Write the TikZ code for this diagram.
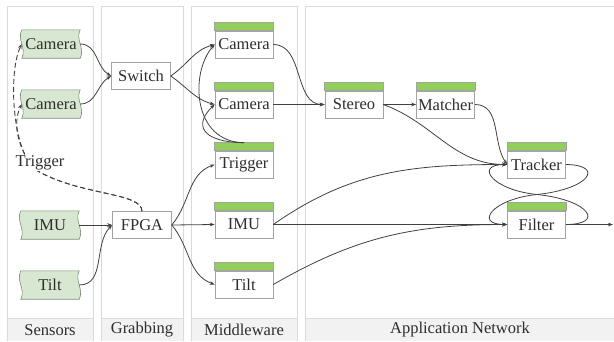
\documentclass[tikz,border=0pt]{standalone}
\usepackage{fontspec}
\setmainfont{Liberation Serif}
\usetikzlibrary{arrows.meta,backgrounds}

\definecolor{laneline}{HTML}{DADADA}
\definecolor{footfill}{HTML}{F2F2F2}
\definecolor{sensfill}{HTML}{D7E7D1}
\definecolor{sensline}{HTML}{7D8C78}
\definecolor{bargreen}{HTML}{92CF5A}
\definecolor{boxline}{HTML}{A3A3A3}
\definecolor{wire}{HTML}{404040}
\definecolor{ink}{HTML}{2E2E2E}

\tikzset{
  lanebox/.style={draw=laneline, line width=0.8pt},
  sensor/.style={minimum width=58pt, minimum height=28pt, inner sep=0pt},
  sensorshape/.style={draw=sensline, fill=sensfill, line width=0.6pt},
  plainbox/.style={draw=boxline, fill=white, line width=0.6pt,
    minimum width=59pt, minimum height=27pt, inner sep=0pt},
  mwbox/.style={draw=boxline, fill=white, line width=0.6pt,
    minimum width=58pt, minimum height=27pt, inner sep=0pt},
  wireline/.style={draw=wire, line width=0.8pt,
    -{Stealth[length=5pt,width=3.6pt]}},
  trigline/.style={wireline, dash pattern=on 5pt off 3pt, line width=0.9pt},
  lanelabel/.style={text=ink, font=\fontsize{16.5}{19}\selectfont}
}

\begin{document}
\begin{tikzpicture}[x=1pt, y=-1pt, font=\fontsize{16.5}{19}\selectfont, text=ink]
\useasboundingbox (0,0) rectangle (614,341);

% swim lanes with footer band
\foreach \xa/\xb/\lbl/\cx in {7/93/Sensors/50, 101/183/Grabbing/142,
    191/297/Middleware/244, 305/620/Application Network/460} {
  \fill[footfill] (\xa,318) rectangle (\xb,341);
  \draw[lanebox] (\xa,341) -- (\xa,6) -- (\xb,6) -- (\xb,341);
  \draw[lanebox] (\xa,318) -- (\xb,318);
  \node[lanelabel] at (\cx,330) {\lbl};
}

% sensors
\node[sensor] (scam1) at (51,44) {Camera};
\node[sensor] (scam2) at (51,104) {Camera};
\node[sensor] (simu)  at (50,225) {IMU};
\node[sensor] (stilt) at (50,285) {Tilt};

% wavy-sided sensor outlines, behind the sensor labels
\begin{scope}[on background layer]
\foreach \n in {scam1,scam2,simu,stilt}
  \draw[sensorshape] (\n.north west) -- (\n.north east)
    .. controls ([xshift=-5pt,yshift=-10pt]\n.north east)
       and ([xshift=5pt,yshift=10pt]\n.south east) .. (\n.south east)
    -- (\n.south west)
    .. controls ([xshift=5pt,yshift=10pt]\n.south west)
       and ([xshift=-5pt,yshift=-10pt]\n.north west) .. cycle;
\end{scope}

% grabbing
\node[plainbox] (switch) at (141,76) {Switch};
\node[plainbox] (fpga)   at (142,225) {FPGA};

% middleware
\node[mwbox] (mcam1) at (244,44.5)  {Camera};
\node[mwbox] (mcam2) at (244,104.5) {Camera};
\node[mwbox] (mtrig) at (244,164.5) {Trigger};
\node[mwbox] (mimu)  at (244,224.5) {IMU};
\node[mwbox] (mtilt) at (244,284.5) {Tilt};

% application network
\node[mwbox] (stereo)  at (354,104.5)   {Stereo};
\node[mwbox] (matcher) at (445.5,104.5) {Matcher};
\node[mwbox] (tracker) at (536.5,164.5) {Tracker};
\node[mwbox] (filter)  at (536.5,224.5) {Filter};

% green header bars
\foreach \n in {mcam1,mcam2,mtrig,mimu,mtilt,stereo,matcher,tracker,filter}
  \draw[draw=boxline, fill=bargreen, line width=0.6pt]
    (\n.north west) rectangle ([yshift=8pt]\n.north east);

\coordinate (trigtop) at ([yshift=8pt]mtrig.north);
\coordinate (trg) at (36,170);
\coordinate (exit) at (613,224.5);

% trigger lines from the FPGA back to the cameras
\draw[trigline] (fpga.north) .. controls (142,192) and (80,196) .. (trg)
  .. controls (12,152) and (8,72) .. (scam1.west);
\draw[trigline] (fpga.north) .. controls (142,192) and (80,196) .. (trg)
  .. controls (18,150) and (12,124) .. (scam2.west);
\node[fill=white, inner sep=1pt] (triglbl) at (40,163) {Trigger};

% sensors to grabbing
\draw[wireline] (scam1.east) to[out=0, in=150] (switch.west);
\draw[wireline] (scam2.east) to[out=0, in=210] (switch.west);
\draw[wireline] (simu.east) -- (fpga.west);
\draw[wireline] (stilt.east) to[out=0, in=225] (fpga.west);

% grabbing to middleware
\draw[wireline] (switch.east) to[out=35, in=195] (mcam1.west);
\draw[wireline] (switch.east) to[out=-35, in=165] (mcam2.west);
\draw[wireline] (trigtop) .. controls (200,142) and (194,124) .. (mcam2.west);
\draw[wireline] (trigtop) .. controls (192,142) and (190,72) .. (mcam1.west);
\draw[wireline] (fpga.east) to[out=50, in=200] (mtrig.west);
\draw[wireline] (fpga.east) -- (mimu.west);
\draw[wireline] (fpga.east) to[out=-50, in=160] (mtilt.west);

% middleware to application
\draw[wireline] (mcam1.east) to[out=0, in=180] (stereo.west);
\draw[wireline] (mcam2.east) -- (stereo.west);
\draw[wireline] (stereo.east) -- (matcher.west);
\draw[wireline] (stereo.east) to[out=-20, in=180] (tracker.west);
\draw[wireline] (matcher.east) to[out=0, in=125] (tracker.west);
\draw[wireline] (mimu.east) to[out=35, in=180] (tracker.west);
\draw[wireline] (mimu.east) -- (filter.west);
\draw[wireline] (mtilt.east) to[out=30, in=180] (filter.west);

% tracker / filter feedback loop
\draw[wireline] (tracker.east) .. controls (605,165) and (590,189) .. (537,194.5)
  .. controls (492,199) and (474,224.5) .. (filter.west);
\draw[wireline] (filter.east) .. controls (605,224.5) and (590,200) .. (537,194.5)
  .. controls (492,190) and (474,164.5) .. (tracker.west);
\draw[wireline] (filter.east) -- (exit);
\end{tikzpicture}
\end{document}
